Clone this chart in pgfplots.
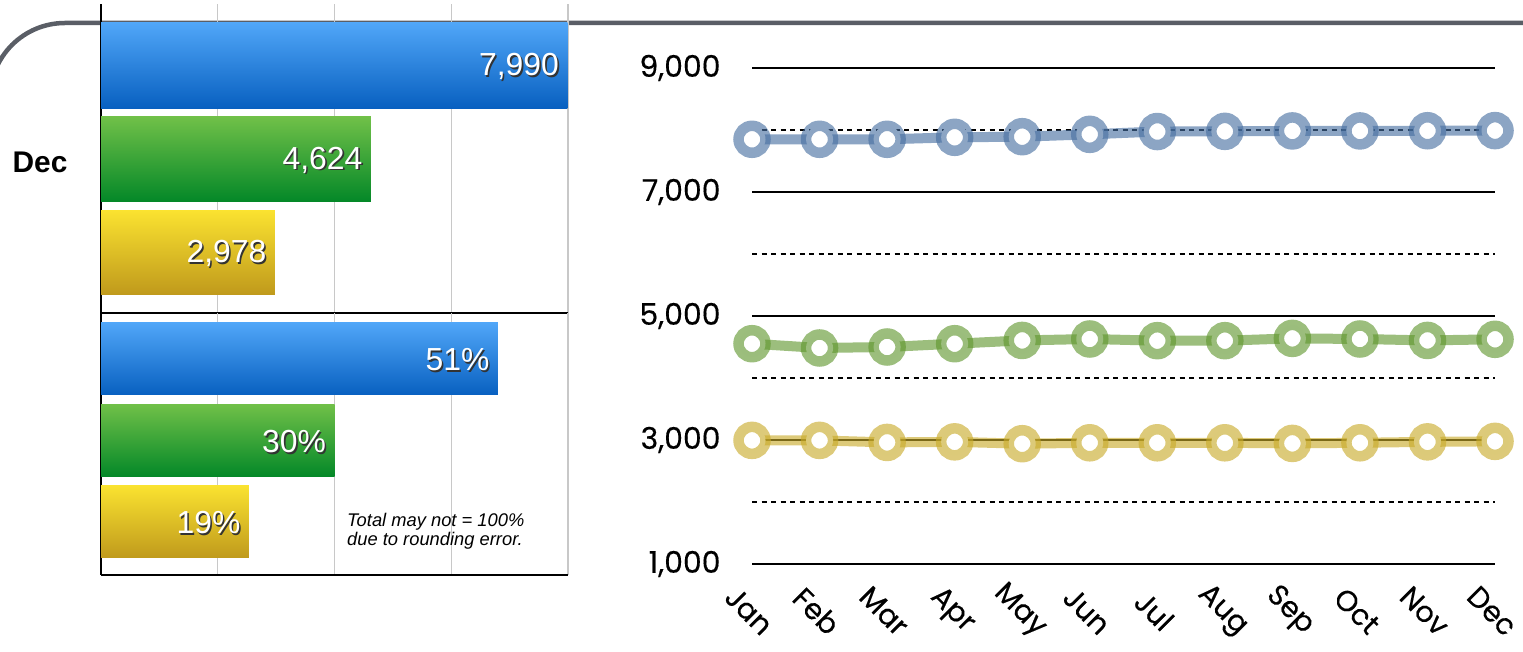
\documentclass[border=0pt]{standalone}
\usepackage{pgfplots}
\pgfplotsset{compat=1.18}
\usepackage{fontspec}
\setmainfont{Liberation Sans}
\newfontfamily\geo{Poppins}[FakeBold=0.3]

\definecolor{gridgray}{RGB}{200,200,200}
\definecolor{topgray}{RGB}{90,94,102}
\definecolor{bluetop}{RGB}{80,166,248}
\definecolor{bluebot}{RGB}{8,96,192}
\definecolor{greentop}{RGB}{112,192,72}
\definecolor{greenbot}{RGB}{4,136,40}
\definecolor{yeltop}{RGB}{250,226,48}
\definecolor{yelbot}{RGB}{192,154,28}
\definecolor{lblue}{RGB}{70,110,160}
\definecolor{lgreen}{RGB}{95,150,45}
\definecolor{lyel}{RGB}{200,170,40}

% white label with a dark drop shadow
\newcommand\shadowtext[1]{\makebox[0pt][l]{\kern1.6bp\raisebox{-1.8bp}{\textcolor{black!80}{#1}}}\textcolor{white}{#1}}

\pgfplotsset{
  barpanel/.style={
    scale only axis, width=467bp,
    axis x line*=bottom, axis y line*=left,
    axis line style={-, black, line width=2.6bp},
    xmajorgrids, major grid style={gridgray, line width=1.2bp},
    major tick length=0pt, xticklabels={},
    /pgf/number format/assume math mode=true,
    /pgf/number format/1000 sep={,},
  },
  hbar/.style={xbar, bar shift=0pt, draw=none, point meta=x,
    nodes near coords style={anchor=east, xshift=-5bp, yshift=-2bp, font=\fontsize{32}{32}\selectfont}},
  ring/.style={line width=10bp, draw=#1, draw opacity=0.62, mark=*, mark size=13.5bp,
    mark options={solid, line width=10.5bp, fill=white, draw=#1, draw opacity=0.62}},
}

\begin{document}
\begin{tikzpicture}[x=1bp, y=1bp]
\useasboundingbox (0,0) rectangle (1523,652);
\clip (0,0) rectangle (1523,652);

% header rule with rounded left end
\draw[topgray, line width=4.5bp] (-10,554) arc (180:90:75) -- (1540,629);

% counts
\begin{axis}[barpanel, at={(101bp,339bp)}, anchor=south west, height=309bp,
  xmin=0, xmax=8000, ymin=0.353, ymax=3.658,
  xtick={2000,4000,6000,8000},
  ytick={1.968}, yticklabels={Dec},
  yticklabel style={font=\bfseries\fontsize{30}{30}\selectfont, xshift=-30bp}]
\addplot[hbar, bar width=0.91, top color=bluetop, bottom color=bluebot,
  nodes near coords={\shadowtext{\pgfmathprintnumber{\pgfplotspointmeta}}}]
  coordinates {(7990,3)};
\addplot[hbar, bar width=0.90, top color=greentop, bottom color=greenbot,
  nodes near coords={\shadowtext{\pgfmathprintnumber{\pgfplotspointmeta}}}]
  coordinates {(4624,2)};
\addplot[hbar, bar width=0.89, top color=yeltop, bottom color=yelbot,
  nodes near coords={\shadowtext{\pgfmathprintnumber{\pgfplotspointmeta}}}]
  coordinates {(2978,1)};
\end{axis}

% shares
\begin{axis}[barpanel, at={(101bp,77bp)}, anchor=south west, height=262bp,
  xmin=0, xmax=60, ymin=0.342, ymax=3.566,
  xtick={15,30,45,60}, ytick=\empty]
\addplot[hbar, bar width=0.886, top color=bluetop, bottom color=bluebot,
  nodes near coords={\shadowtext{\pgfmathprintnumber{\pgfplotspointmeta}\%}}]
  coordinates {(51,3)};
\addplot[hbar, bar width=0.886, top color=greentop, bottom color=greenbot,
  nodes near coords={\shadowtext{\pgfmathprintnumber{\pgfplotspointmeta}\%}}]
  coordinates {(30,2)};
\addplot[hbar, bar width=0.886, top color=yeltop, bottom color=yelbot,
  nodes near coords={\shadowtext{\pgfmathprintnumber{\pgfplotspointmeta}\%}}]
  coordinates {(19,1)};
\end{axis}

\node[anchor=north west, align=left, inner sep=0pt,
  font=\itshape\fontsize{18.4}{19.5}\selectfont] at (347,139)
  {Total may not = 100\%\\due to rounding error.};

% monthly trend
\begin{axis}[at={(752bp,88bp)}, anchor=south west, scale only axis,
  width=743bp, height=496bp, clip=false,
  xmin=1, xmax=12, ymin=1000, ymax=9000,
  axis line style={draw=none}, major tick length=0pt, minor tick length=0pt,
  ytick={1000,3000,5000,7000,9000}, minor ytick={2000,4000,6000,8000},
  ymajorgrids, yminorgrids,
  major grid style={black, line width=1.3bp},
  minor grid style={black, line width=1.8bp, dash pattern=on 5bp off 4.5bp},
  xtick={1,...,12},
  xticklabels={Jan,Feb,Mar,Apr,May,Jun,Jul,Aug,Sep,Oct,Nov,Dec},
  xticklabel style={font=\geo\fontsize{29}{29}\selectfont, xshift=-3bp, yshift=-47bp, rotate=-45, anchor=center},
  yticklabel style={font=\geo\fontsize{30}{30}\selectfont, xshift=-28bp},
  /pgf/number format/assume math mode=true,
  /pgf/number format/1000 sep={,}]
\addplot[ring=lblue] coordinates {
  (1,7850) (2,7850) (3,7850) (4,7882) (5,7892) (6,7930)
  (7,7975) (8,7978) (9,7985) (10,7985) (11,7988) (12,7990)};
\addplot[ring=lgreen] coordinates {
  (1,4553) (2,4484) (3,4500) (4,4553) (5,4606) (6,4629)
  (7,4602) (8,4602) (9,4639) (10,4629) (11,4606) (12,4624)};
\addplot[ring=lyel] coordinates {
  (1,2994) (2,2994) (3,2961) (4,2970) (5,2940) (6,2955)
  (7,2955) (8,2955) (9,2945) (10,2955) (11,2970) (12,2978)};
\end{axis}
\end{tikzpicture}
\end{document}
